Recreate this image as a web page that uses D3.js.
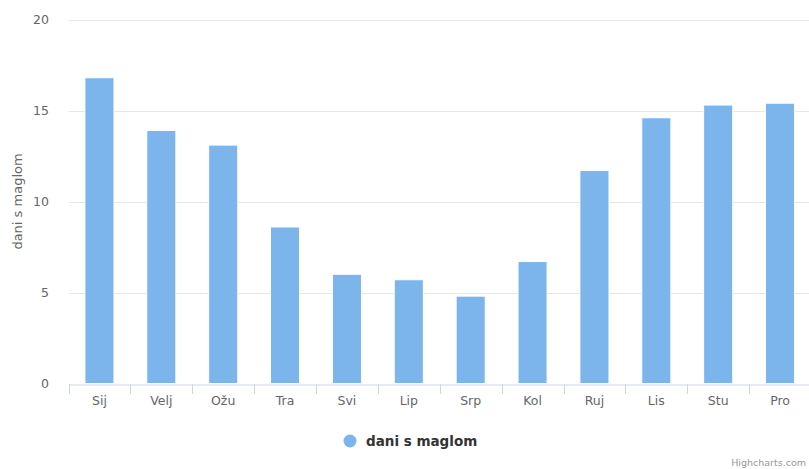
<!DOCTYPE html>
<html>
<head>
    <script type="text/javascript" src="https://cdn.jsdelivr.net/npm/d3@7"></script>
    <style>
        body { margin: 0; background: #fff; }
        text { font-family: "DejaVu Sans", sans-serif; }
    </style>
</head>
<body>
    <div id="chart"></div>
    <script type="text/javascript">

    var months = ["Sij", "Velj", "Ožu", "Tra", "Svi", "Lip", "Srp", "Kol", "Ruj", "Lis", "Stu", "Pro"];
    var fogDays = [16.8, 13.9, 13.1, 8.6, 6.0, 5.7, 4.8, 6.7, 11.7, 14.6, 15.3, 15.4];
    var yTicks = [0, 5, 10, 15, 20];
    var seriesName = "dani s maglom";
    var axisTitle = "dani s maglom";

    var width = 809, height = 469;
    var margin = {top: 19.5, right: -2, bottom: 85.5, left: 68.5};

    var svg = d3.select("#chart")
        .append("svg")
        .attr("width", width)
        .attr("height", height);

    var x = d3.scaleBand()
        .domain(months)
        .range([margin.left, width - margin.right])
        .paddingInner(0.53)
        .paddingOuter(0.265);

    var y = d3.scaleLinear()
        .domain([0, 20])
        .range([height - margin.bottom, margin.top]);

    // grid lines
    svg.selectAll("line.grid")
        .data(yTicks.slice(1))
        .enter().append("line")
        .attr("class", "grid")
        .attr("x1", margin.left)
        .attr("x2", width)
        .attr("y1", function(d){ return Math.round(y(d)) + 0.5; })
        .attr("y2", function(d){ return Math.round(y(d)) + 0.5; })
        .style("stroke", "#e6e6e6")
        .style("stroke-width", 1);

    // y labels
    svg.selectAll("text.ylab")
        .data(yTicks)
        .enter().append("text")
        .attr("class", "ylab")
        .attr("x", 49)
        .attr("y", function(d){ return y(d) + 4.5; })
        .attr("text-anchor", "end")
        .style("font-size", "12.5px")
        .style("fill", "#666")
        .text(function(d){ return d; });

    // y axis title
    svg.append("text")
        .attr("transform", "translate(22," + ((margin.top + height - margin.bottom) / 2) + ") rotate(-90)")
        .attr("text-anchor", "middle")
        .style("font-size", "13px")
        .style("fill", "#666")
        .text(axisTitle);

    // bars
    svg.selectAll("rect.bar")
        .data(fogDays)
        .enter().append("rect")
        .attr("class", "bar")
        .attr("x", function(d, i){ return x(months[i]); })
        .attr("width", x.bandwidth())
        .attr("y", function(d){ return y(d); })
        .attr("height", function(d){ return y(0) - y(d); })
        .style("fill", "#7cb5ec")
        .style("stroke", "#fff")
        .style("stroke-width", 1);

    // x axis
    var xAxis = d3.axisBottom(x).tickSize(0).tickPadding(12);
    var gx = svg.append("g")
        .attr("transform", "translate(0," + (Math.round(y(0)) + 0.5) + ")")
        .call(xAxis);
    gx.select(".domain").style("stroke", "#ccd6eb");
    gx.selectAll("text")
        .style("font-size", "12.5px")
        .style("fill", "#666")
        .style("font-family", "DejaVu Sans, sans-serif");

    // tick marks between categories
    var step = x.step();
    svg.selectAll("line.xtick")
        .data(d3.range(months.length + 1))
        .enter().append("line")
        .attr("class", "xtick")
        .attr("x1", function(i){ return Math.round(margin.left + i * step) + 0.5; })
        .attr("x2", function(i){ return Math.round(margin.left + i * step) + 0.5; })
        .attr("y1", Math.round(y(0)))
        .attr("y2", Math.round(y(0)) + 10)
        .style("stroke", "#ccd6eb");

    // legend
    var legend = svg.append("g").attr("transform", "translate(350,441)");
    legend.append("circle")
        .attr("r", 6.5)
        .attr("cx", 0)
        .attr("cy", 0)
        .style("fill", "#7cb5ec");
    legend.append("text")
        .attr("x", 16)
        .attr("y", 5)
        .style("font-size", "13.5px")
        .style("font-weight", "bold")
        .style("fill", "#333")
        .text(seriesName);

    // credits
    svg.append("text")
        .attr("x", 806)
        .attr("y", 466)
        .attr("text-anchor", "end")
        .style("font-size", "9.5px")
        .style("fill", "#999")
        .text("Highcharts.com");

    </script>
</body>
</html>
